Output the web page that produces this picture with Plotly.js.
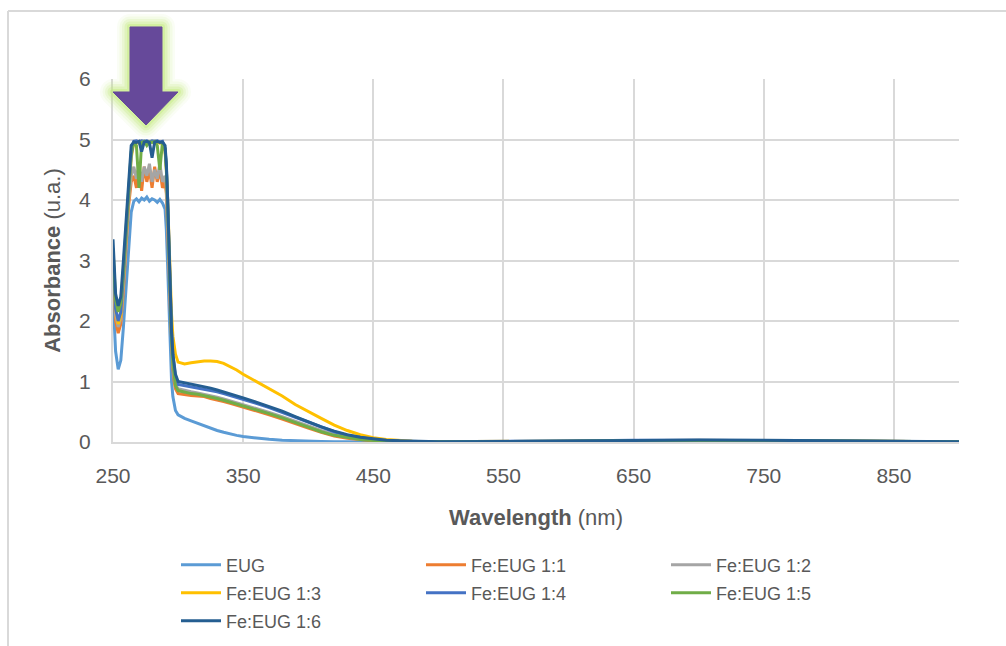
<!DOCTYPE html>
<html>
<head>
<meta charset="utf-8">
<script src="https://cdn.plot.ly/plotly-3.0.1.min.js"></script>
<style>
html,body{margin:0;padding:0;background:#fff;}
#chart{width:1006px;height:646px;}
.shapelayer path{stroke-linejoin:round;}
</style>
</head>
<body>
<div id="chart"></div>
<script>
const wavelength = [250,252,254,256,258,260,262,264,266,268,270,272,274,276,278,280,282,284,286,288,290,291,292,293,294,295,296,297,298,300,305,310,315,320,325,330,335,340,345,350,360,370,380,390,400,410,420,430,440,450,460,470,480,500,550,600,650,700,750,800,850,900];

const seriesNames = ["EUG","Fe:EUG 1:1","Fe:EUG 1:2","Fe:EUG 1:3","Fe:EUG 1:4","Fe:EUG 1:5","Fe:EUG 1:6"];

const eug = [2.4,1.5,1.2,1.35,1.9,2.6,3.3,3.8,3.98,4.02,3.97,4.03,4.0,4.05,3.98,4.02,4.0,3.96,4.01,3.95,3.85,3.5,2.9,2.2,1.5,1.0,0.75,0.6,0.52,0.45,0.39,0.35,0.31,0.26,0.22,0.19,0.16,0.13,0.11,0.09,0.065,0.045,0.03,0.02,0.012,0.008,0.005,0.004,0.003,0.003,0.002,0.002,0.002,0.002,0.005,0.012,0.02,0.022,0.018,0.012,0.006,0.004];

const fe11 = [2.9,2.0,1.8,1.95,2.5,3.2,3.9,4.3,4.4,4.2,4.5,4.15,4.55,4.3,4.5,4.2,4.55,4.3,4.5,4.2,4.3,4.1,3.6,2.9,2.2,1.6,1.2,1.0,0.88,0.8,0.78,0.77,0.76,0.75,0.72,0.7,0.67,0.64,0.61,0.58,0.52,0.45,0.38,0.3,0.23,0.16,0.1,0.06,0.035,0.02,0.012,0.008,0.005,0.003,0.005,0.012,0.022,0.026,0.02,0.012,0.006,0.004];

const fe12 = [3.0,2.1,1.9,2.05,2.6,3.3,4.0,4.4,4.55,4.35,4.6,4.3,4.55,4.4,4.6,4.3,4.5,4.35,4.6,4.3,4.4,4.2,3.7,3.0,2.3,1.7,1.3,1.08,0.95,0.88,0.85,0.83,0.81,0.79,0.77,0.74,0.71,0.68,0.65,0.62,0.56,0.49,0.42,0.34,0.26,0.19,0.13,0.08,0.05,0.03,0.018,0.011,0.007,0.004,0.006,0.014,0.024,0.028,0.022,0.014,0.007,0.004];

const fe13 = [3.05,2.2,1.95,2.1,2.7,3.4,4.1,4.7,4.95,4.96,4.94,4.97,4.95,4.96,4.94,4.97,4.95,4.96,4.94,4.95,4.8,4.5,4.0,3.3,2.6,2.1,1.75,1.55,1.45,1.32,1.29,1.31,1.33,1.34,1.34,1.33,1.3,1.25,1.19,1.12,1.0,0.88,0.76,0.62,0.5,0.39,0.28,0.19,0.12,0.07,0.04,0.022,0.012,0.006,0.006,0.014,0.025,0.03,0.024,0.015,0.008,0.005];

const fe14 = [3.1,2.2,2.0,2.15,2.75,3.45,4.15,4.75,4.97,4.98,4.96,4.98,4.97,4.98,4.96,4.98,4.97,4.98,4.96,4.97,4.85,4.55,4.0,3.25,2.5,1.85,1.45,1.2,1.06,0.95,0.93,0.92,0.9,0.88,0.86,0.83,0.8,0.77,0.74,0.71,0.64,0.57,0.49,0.41,0.32,0.24,0.17,0.11,0.07,0.04,0.025,0.015,0.009,0.005,0.006,0.015,0.027,0.032,0.026,0.016,0.008,0.005];

const fe15 = [3.2,2.35,2.15,2.3,2.85,3.5,4.2,4.8,4.95,4.9,4.2,4.95,4.97,4.9,4.96,4.95,4.97,4.9,4.5,4.95,4.85,4.5,3.9,3.1,2.35,1.7,1.3,1.05,0.93,0.85,0.82,0.8,0.79,0.77,0.75,0.72,0.69,0.66,0.63,0.6,0.54,0.47,0.4,0.32,0.24,0.17,0.11,0.07,0.04,0.025,0.015,0.009,0.006,0.004,0.006,0.014,0.025,0.03,0.024,0.015,0.008,0.005];

const fe16 = [3.35,2.45,2.25,2.4,3.0,3.6,4.3,4.9,4.96,4.95,4.97,4.8,4.96,4.97,4.95,4.7,4.96,4.97,4.95,4.96,4.9,4.6,4.0,3.2,2.4,1.8,1.45,1.25,1.12,1.0,0.98,0.96,0.94,0.92,0.89,0.86,0.83,0.8,0.77,0.73,0.66,0.59,0.51,0.42,0.33,0.25,0.18,0.12,0.08,0.05,0.03,0.02,0.012,0.006,0.007,0.016,0.028,0.034,0.028,0.018,0.009,0.005];

const seriesColors = ["#5B9BD5","#ED7D31","#A5A5A5","#FFC000","#4472C4","#70AD47","#255E91"];
const seriesValues = [eug, fe11, fe12, fe13, fe14, fe15, fe16];
const legendRow = ["legend","legend","legend","legend2","legend2","legend2","legend3"];

const traces = seriesValues.map((vals, i) => ({
  type: "scatter",
  mode: "lines",
  x: wavelength,
  y: vals,
  name: seriesNames[i],
  legend: legendRow[i],
  line: {color: seriesColors[i], width: 3}
}));

const FONT = "Liberation Sans, Arial, sans-serif";
const TXT = "#595959";

// helpers to convert pixel positions into paper coordinates (decorations only)
const L = 113, R = 959, T = 79, B = 442;
const px = v => (v - L) / (R - L);
const py = v => (B - v) / (B - T);

const arrowPts = [[130,27],[162,27],[162,92],[178,92],[146,125],[113,92],[130,92]];
const arrowPath = "M " + arrowPts.map(p => px(p[0]).toFixed(4) + "," + py(p[1]).toFixed(4)).join(" L ") + " Z";

const glow = [[26,0.08],[21,0.12],[16,0.18],[11,0.28],[6,0.42]].map(g => ({
  type:"path", xref:"paper", yref:"paper", path:arrowPath,
  line:{color:"rgba(195,235,125," + g[1] + ")", width:g[0]}, fillcolor:"rgba(0,0,0,0)"
}));

const shapes = [
  {type:"line", xref:"paper", yref:"paper", x0:px(8), x1:px(1010), y0:py(11), y1:py(11), line:{color:"#D9D9D9", width:2}},
  {type:"line", xref:"paper", yref:"paper", x0:px(8), x1:px(8), y0:py(11), y1:py(650), line:{color:"#D9D9D9", width:2}}
].concat(glow, [
  {type:"path", xref:"paper", yref:"paper", path:arrowPath, line:{color:"#66499A", width:1}, fillcolor:"#66499A"}
]);

function legendRowCfg(yPx) {
  return {
    orientation: "h",
    x: px(176), xanchor: "left",
    y: py(yPx), yanchor: "middle",
    entrywidth: 190, entrywidthmode: "pixels",
    font: {family: FONT, size: 18, color: TXT},
    bgcolor: "rgba(0,0,0,0)",
    traceorder: "normal",
    itemwidth: 40
  };
}

const layout = {
  width: 1006, height: 646,
  margin: {l: L, r: 1006 - R, t: T, b: 646 - B, autoexpand: false},
  paper_bgcolor: "#ffffff",
  plot_bgcolor: "#ffffff",
  showlegend: true,
  font: {family: FONT, color: TXT},
  xaxis: {
    range: [250, 900], tick0: 250, dtick: 100,
    showgrid: true, gridcolor: "#D9D9D9", gridwidth: 2,
    showline: true, linecolor: "#D9D9D9", linewidth: 2,
    zeroline: false, ticks: "", ticklabelstandoff: 14,
    automargin: false,
    tickfont: {family: FONT, size: 21, color: TXT},
    title: {text: "<b>Wavelength</b> (nm)", font: {family: FONT, size: 22, color: TXT}, standoff: 23}
  },
  yaxis: {
    range: [0, 6], tick0: 0, dtick: 1,
    showgrid: true, gridcolor: "#D9D9D9", gridwidth: 2,
    showline: true, linecolor: "#D9D9D9", linewidth: 2,
    zeroline: false, ticks: "", ticklabelstandoff: 16,
    automargin: false,
    tickfont: {family: FONT, size: 21, color: TXT},
    title: {text: "<b>Absorbance</b> (u.a.)", font: {family: FONT, size: 22, color: TXT}, standoff: 12}
  },
  legend: legendRowCfg(565),
  legend2: legendRowCfg(593),
  legend3: legendRowCfg(621),
  shapes: shapes
};

Plotly.newPlot("chart", traces, layout, {displayModeBar: false, staticPlot: true});
</script>
</body>
</html>
